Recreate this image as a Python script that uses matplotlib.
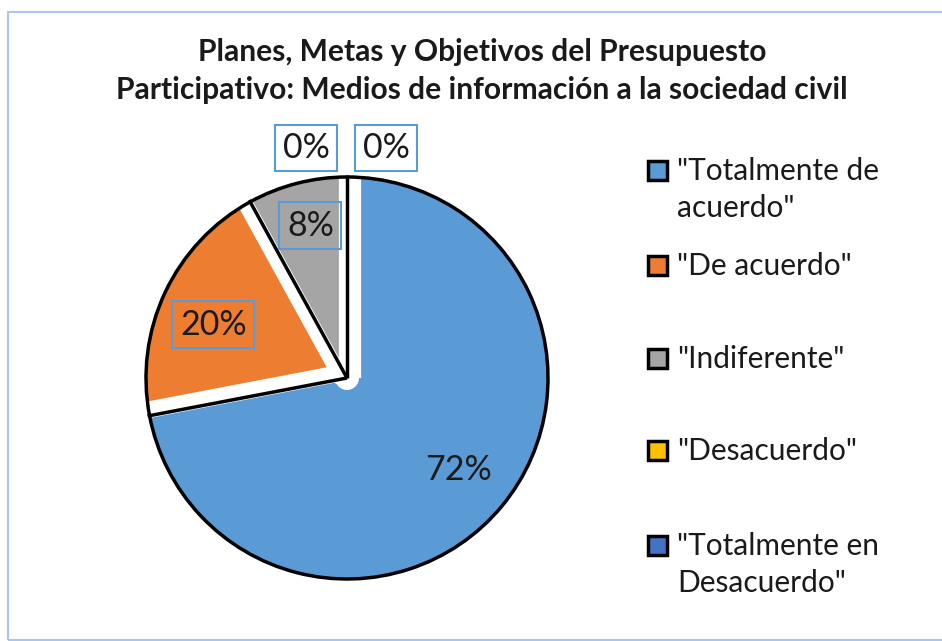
import matplotlib
matplotlib.use("Agg")
import matplotlib.pyplot as plt
from matplotlib.patches import Rectangle, Arc, Circle
import numpy as np

plt.rcParams['font.family'] = ['Lato', 'DejaVu Sans']

categories = ['"Totalmente de\nacuerdo"', '"De acuerdo"', '"Indiferente"',
              '"Desacuerdo"', '"Totalmente en\nDesacuerdo"']
values = [72, 20, 8, 0, 0]
colors = ['#5B9BD5', '#ED7D31', '#A5A5A5', '#FFC000', '#4472C4']
title = "Planes, Metas y Objetivos del Presupuesto\nParticipativo: Medios de información a la sociedad civil"

W, H = 942, 641
fig = plt.figure(figsize=(W / 100, H / 100), dpi=100)
ax = fig.add_axes([0, 0, 1, 1])

cx, cy, R = 347, H - 378, 201

wedges, texts, autotexts = ax.pie(
    values, colors=colors, startangle=90, counterclock=False,
    radius=R, center=(cx, cy), autopct='%1.0f%%', pctdistance=0.72,
    wedgeprops=dict(linewidth=0),
    textprops=dict(fontsize=24.5, color='#1a1a1a', zorder=10))

ax.set_xlim(0, W)
ax.set_ylim(0, H)
ax.set_aspect('equal')
ax.axis('off')

# frame of the chart area
fig.patches.append(Rectangle((8 / W, 1 / H), (W + 10) / W, (H - 13) / H,
                             transform=fig.transFigure, fill=False,
                             edgecolor='#A8C6EE', linewidth=1.5))

def radial(w, ang, color, lw, z, shift=0.0):
    a = np.deg2rad(ang)
    x0, y0 = w.center
    # shift > 0 moves the line towards the clockwise side
    x0 += shift * np.sin(a)
    y0 -= shift * np.cos(a)
    ax.plot([x0, x0 + (w.r + 2) * np.cos(a)], [y0, y0 + (w.r + 2) * np.sin(a)],
            color=color, linewidth=lw, solid_capstyle='butt', zorder=z)

# soft white gaps between the slices
radial(wedges[0], wedges[0].theta1, 'white', 12, 3, shift=6)    # orange | blue
radial(wedges[1], wedges[1].theta1, 'white', 11, 3, shift=-5)   # grey | orange
radial(wedges[2], wedges[2].theta1, 'white', 16, 3, shift=3)    # blue | grey
ax.add_patch(Circle((cx, cy), 12, facecolor='white', edgecolor='none', zorder=3))

# black outline on outer arcs
for w in wedges:
    if w.theta2 - w.theta1 > 0.01:
        ax.add_patch(Arc(w.center, 2 * w.r, 2 * w.r, theta1=w.theta1,
                         theta2=w.theta2, color='black', linewidth=2.5, zorder=4))

# black radial edges for grey slice and lower edge of orange slice
radial(wedges[2], wedges[2].theta1, 'black', 2.5, 5)
radial(wedges[2], wedges[2].theta2, 'black', 2.5, 5)
radial(wedges[1], wedges[1].theta2, 'black', 2.5, 5)

box_col = '#5B9BD5'
def polar(dist, ang):
    a = np.deg2rad(ang)
    return (cx + dist * R * np.cos(a), cy + dist * R * np.sin(a))

# label placement tweaks
autotexts[1].set_position(polar(0.716, 158.3))
autotexts[2].set_position(polar(0.78, 103.5))
autotexts[3].set_position((cx - 41, cy + 230))
autotexts[4].set_position((cx + 39, cy + 230))
for i, t in enumerate(autotexts):
    if i == 0:
        continue
    fc = 'white' if values[i] == 0 else 'none'
    t.set_bbox(dict(boxstyle='square,pad=0.22', facecolor=fc,
                    edgecolor=box_col, linewidth=1.5))

fig.text(482 / W, 1 - 71 / H, title, ha='center', va='center',
         fontsize=21.6, fontweight='bold', linespacing=1.45, color='#1a1a1a')

# legend
leg_y = [170, 265, 358, 450, 545]
for lab, col, y in zip(categories, colors, leg_y):
    ax.add_patch(Rectangle((648, H - y - 10), 19, 19, facecolor=col,
                           edgecolor='black', linewidth=2.5))
    ax.text(677, H - y + 13, lab, ha='left', va='top', fontsize=21.5,
            linespacing=1.38, color='#1a1a1a')

fig.savefig('out.png', dpi=100)
